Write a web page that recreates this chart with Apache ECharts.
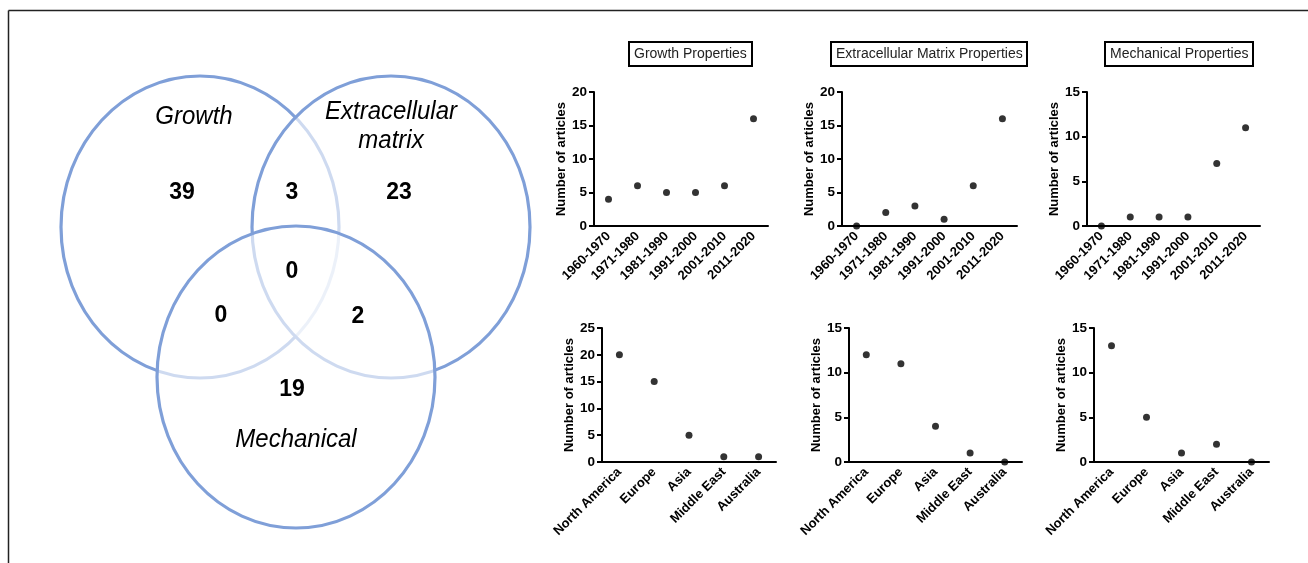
<!DOCTYPE html>
<html>
<head>
<meta charset="utf-8">
<script src="https://cdn.jsdelivr.net/npm/echarts@6/dist/echarts.min.js"></script>
<style>
html,body{margin:0;padding:0;background:#fff;}
#chart{width:1308px;height:563px;}
</style>
</head>
<body>
<div id="chart"></div>
<script>
// ---- data ----
const vennSetNames = ['Growth', 'Extracellular\nmatrix', 'Mechanical'];
// regions: Growth only, Growth∩ECM, ECM only, all three, Growth∩Mech, ECM∩Mech, Mech only
const vennCounts = [39, 3, 23, 0, 0, 2, 19];

const panelTitles = ['Growth Properties', 'Extracellular Matrix Properties', 'Mechanical Properties'];
const decades = ['1960-1970', '1971-1980', '1981-1990', '1991-2000', '2001-2010', '2011-2020'];
const regions = ['North America', 'Europe', 'Asia', 'Middle East', 'Australia'];

const growthByDecade = [4, 6, 5, 5, 6, 16];
const ecmByDecade = [0, 2, 3, 1, 6, 16];
const mechByDecade = [0, 1, 1, 1, 7, 11];

const growthByRegion = [20, 15, 5, 1, 1];
const ecmByRegion = [12, 11, 4, 1, 0];
const mechByRegion = [13, 5, 1, 2, 0];

const yAxisMax = [20, 20, 15, 25, 15, 15];
const yAxisStep = 5;
const yAxisName = 'Number of articles';

// ---- layout ----
const FONT = '"Liberation Sans", Arial, Helvetica, sans-serif';
const panels = [
  {cats: decades, vals: growthByDecade, grid: {left: 594, top: 92, width: 174, height: 134}},
  {cats: decades, vals: ecmByDecade, grid: {left: 842, top: 92, width: 175, height: 134}},
  {cats: decades, vals: mechByDecade, grid: {left: 1087, top: 92, width: 173, height: 134}},
  {cats: regions, vals: growthByRegion, grid: {left: 602, top: 328, width: 174, height: 134}},
  {cats: regions, vals: ecmByRegion, grid: {left: 849, top: 328, width: 173, height: 134}},
  {cats: regions, vals: mechByRegion, grid: {left: 1094, top: 328, width: 175, height: 134}}
];
const titleLeft = [629, 831, 1105];

const grids = [], xAxes = [], yAxes = [], series = [];
panels.forEach((p, i) => {
  grids.push(Object.assign({containLabel: false}, p.grid));
  xAxes.push({
    type: 'category', gridIndex: i, data: p.cats, boundaryGap: true,
    axisLine: {lineStyle: {color: '#000', width: 2}},
    axisTick: {alignWithLabel: true, length: 5, lineStyle: {color: '#000', width: 2}},
    axisLabel: {rotate: 45, margin: 8, color: '#000', fontWeight: 'bold', fontSize: 13, fontFamily: FONT, interval: 0},
    splitLine: {show: false}
  });
  yAxes.push({
    type: 'value', gridIndex: i, min: 0, max: yAxisMax[i], interval: yAxisStep,
    name: yAxisName, nameLocation: 'middle', nameRotate: 90, nameGap: 26,
    nameTextStyle: {color: '#000', fontWeight: 'bold', fontSize: 13, fontFamily: FONT},
    axisLine: {show: true, lineStyle: {color: '#000', width: 2}},
    axisTick: {show: true, length: 5, lineStyle: {color: '#000', width: 2}},
    axisLabel: {margin: 7, color: '#000', fontWeight: 'bold', fontSize: 13.5, fontFamily: FONT},
    splitLine: {show: false}
  });
  series.push({
    type: 'scatter', xAxisIndex: i, yAxisIndex: i, data: p.vals,
    symbol: 'circle', symbolSize: 7, itemStyle: {color: '#000'}, z: 5, silent: true
  });
});

const titles = panelTitles.map((t, i) => ({
  text: t, left: titleLeft[i], top: 42,
  borderColor: '#000', borderWidth: 2, padding: [5, 5, 5, 5],
  textStyle: {fontSize: 14, fontWeight: 'normal', color: '#222', fontFamily: FONT}
}));

// ---- venn graphic ----
const STROKE = '#7f9fd8';
const ellipses = [
  {cx: 200, cy: 227},
  {cx: 391, cy: 227},
  {cx: 296, cy: 377}
];
const RX = 139, RY = 151;
const vennGraphics = [];
ellipses.forEach((e, i) => {
  vennGraphics.push({
    type: 'ellipse', shape: {cx: e.cx, cy: e.cy, rx: RX, ry: RY}, z: 10 + i,
    style: {fill: i === 0 ? 'none' : 'rgba(255,255,255,0.62)', stroke: STROKE, lineWidth: 3.2}
  });
});
const setLabelPos = [[194, 117], [391, 126], [296, 440]];
vennSetNames.forEach((n, i) => {
  vennGraphics.push({
    type: 'text', x: setLabelPos[i][0], y: setLabelPos[i][1], z: 20, scaleY: 1.08,
    style: {text: n, fill: '#000', font: 'italic 24px ' + FONT, lineHeight: 27,
      align: 'center', verticalAlign: 'middle', textAlign: 'center', textVerticalAlign: 'middle'}
  });
});
const countPos = [[182, 192], [292, 192], [399, 192], [292, 271], [221, 315], [358, 316], [292, 389]];
vennCounts.forEach((c, i) => {
  vennGraphics.push({
    type: 'text', x: countPos[i][0], y: countPos[i][1], z: 20, scaleY: 1.08,
    style: {text: String(c), fill: '#000', font: 'bold 23px ' + FONT,
      align: 'center', verticalAlign: 'middle', textAlign: 'center', textVerticalAlign: 'middle'}
  });
});
// frame (top and left border)
vennGraphics.push({type: 'line', z: 1, shape: {x1: 8.5, y1: 10.5, x2: 1308, y2: 10.5}, style: {stroke: '#222', lineWidth: 1.5}});
vennGraphics.push({type: 'line', z: 1, shape: {x1: 8.5, y1: 10.5, x2: 8.5, y2: 563}, style: {stroke: '#222', lineWidth: 1.5}});

const chart = echarts.init(document.getElementById('chart'), null, {renderer: 'canvas'});
chart.setOption({
  backgroundColor: '#fff',
  animation: false,
  title: titles,
  grid: grids,
  xAxis: xAxes,
  yAxis: yAxes,
  series: series,
  graphic: {elements: vennGraphics}
});
</script>
</body>
</html>
